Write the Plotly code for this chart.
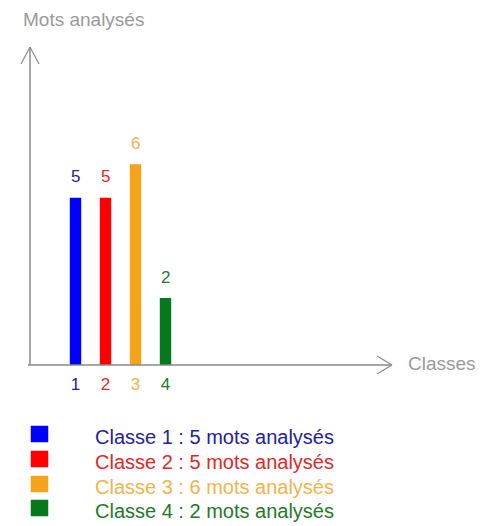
import plotly.graph_objects as go

# ---- data ----
classes = [1, 2, 3, 4]
tick_labels = ["1", "2", "3", "4"]
values = [5, 5, 6, 2]
bar_colors = ["#0000ff", "#ff0000", "#f5a31a", "#06781e"]
text_colors = ["#22229a", "#e02828", "#f0b44a", "#1e7a2a"]
legend_labels = [
    "Classe 1 : 5 mots analysés",
    "Classe 2 : 5 mots analysés",
    "Classe 3 : 6 mots analysés",
    "Classe 4 : 2 mots analysés",
]
y_title = "Mots analysés"
x_title = "Classes"

# page has an 8px body margin; figure sized to fit the window
OFF = 8
W, H = 490 - OFF, 526 - OFF
PLOT_L, PLOT_R, PLOT_T, PLOT_B = 30, 392, 47, 365   # page pixels
L, T = PLOT_L - OFF, PLOT_T - OFF
PW, PH = PLOT_R - PLOT_L, PLOT_B - PLOT_T
R, B = W - L - PW, H - T - PH
FONT = "Liberation Sans, Arial, sans-serif"
AXIS_GRAY = "#8a8a8a"
TITLE_GRAY = "#9a9a9a"

def px_x(px):
    return (px - PLOT_L) / PW

def px_y(py):
    return (PLOT_B - py) / PH

fig = go.Figure()
fig.add_trace(go.Bar(
    x=classes, y=values, width=0.38,
    marker=dict(color=bar_colors, line=dict(width=0)),
    hoverinfo="skip",
))

annotations = []
for c, v, col in zip(classes, values, text_colors):
    annotations.append(dict(
        x=c, y=v, xref="x", yref="y", text=str(v), showarrow=False,
        yshift=21, font=dict(family=FONT, size=17, color=col),
        xanchor="center", yanchor="middle",
    ))
annotations.append(dict(
    x=px_x(21), y=px_y(20), xref="paper", yref="paper", text=y_title,
    showarrow=False, xanchor="left", yanchor="middle",
    font=dict(family=FONT, size=19, color=TITLE_GRAY),
))
annotations.append(dict(
    x=px_x(406), y=px_y(363), xref="paper", yref="paper", text=x_title,
    showarrow=False, xanchor="left", yanchor="middle",
    font=dict(family=FONT, size=19, color=TITLE_GRAY),
))

shapes = []
line = dict(color=AXIS_GRAY, width=1.5)
shapes.append(dict(type="line", xref="paper", yref="paper",
                   x0=0, y0=0, x1=0, y1=1, line=line))
shapes.append(dict(type="line", xref="paper", yref="paper",
                   x0=px_x(28), y0=0, x1=1, y1=0, line=line))
thin = dict(color=AXIS_GRAY, width=1.2)
for dx in (-9, 9):
    shapes.append(dict(type="line", xref="paper", yref="paper",
                       x0=0, y0=1, x1=px_x(PLOT_L + dx), y1=px_y(64), line=thin))
for dy in (-9, 9):
    shapes.append(dict(type="line", xref="paper", yref="paper",
                       x0=1, y0=0, x1=px_x(377), y1=px_y(PLOT_B + dy), line=thin))

row_y = [437, 462, 487, 511]
for lab, bc, tc, ry in zip(legend_labels, bar_colors, text_colors, row_y):
    shapes.append(dict(type="rect", xref="paper", yref="paper",
                       x0=px_x(31), x1=px_x(48), y0=px_y(ry + 5), y1=px_y(ry - 11),
                       fillcolor=bc, line=dict(color=bc, width=0.5)))
    annotations.append(dict(
        x=px_x(93), y=px_y(ry), xref="paper", yref="paper", text=lab,
        showarrow=False, xanchor="left", yanchor="middle",
        font=dict(family=FONT, size=20, color=tc),
    ))

ticktext = [f"<span style='color:{c}'>{t}</span>" for t, c in zip(tick_labels, text_colors)]

x0 = 1 - 45.5 / 30
fig.update_layout(
    width=W, height=H,
    margin=dict(l=L, r=R, t=T, b=B, pad=0),
    paper_bgcolor="white", plot_bgcolor="white",
    showlegend=False,
    font=dict(family=FONT),
    xaxis=dict(range=[x0, x0 + PW / 30], tickvals=classes, ticktext=ticktext,
               showgrid=False, zeroline=False, showline=False, ticks="",
               tickfont=dict(family=FONT, size=17), ticklabelstandoff=7,
               fixedrange=True),
    yaxis=dict(range=[0, PH / 33.45], showgrid=False, zeroline=False,
               showline=False, showticklabels=False, ticks="", fixedrange=True),
    annotations=annotations,
    shapes=shapes,
)

fig.write_html("out.html")
